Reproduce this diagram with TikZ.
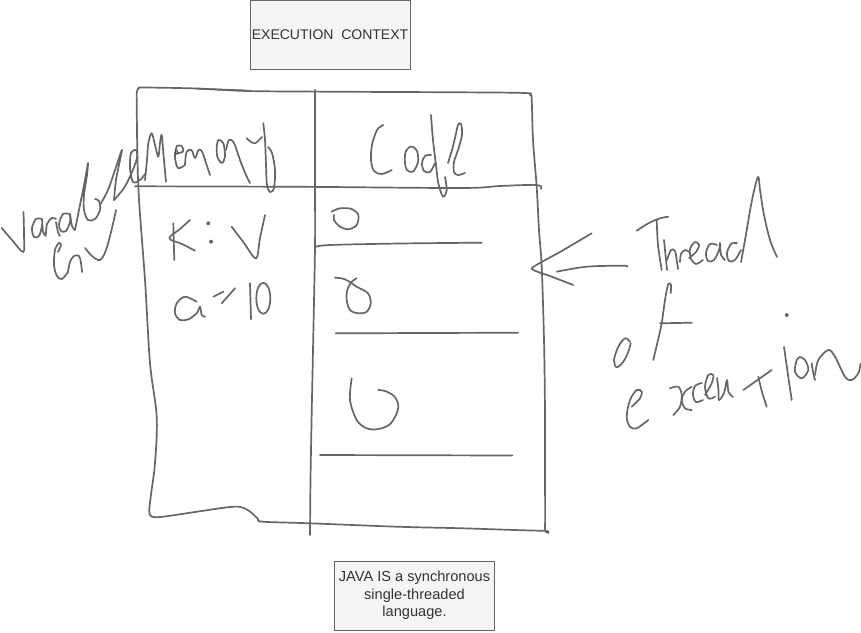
\documentclass[tikz,border=0pt]{standalone}
\usepackage{fontspec}
\setmainfont{Liberation Sans}
\definecolor{ink}{HTML}{666666}
\definecolor{boxfill}{HTML}{F5F5F5}
\definecolor{txt}{HTML}{333333}
\begin{document}
\begin{tikzpicture}[x=1pt,y=-1pt,
  ink/.style={draw=ink, line width=1.7pt, line cap=round, line join=round},
  hw/.style={ink},
  sm/.style={smooth, tension=0.55},
  labelbox/.style={draw=ink, fill=boxfill, line width=0.8pt, text=txt, inner sep=0pt, align=center}]
\useasboundingbox (0,0) rectangle (861,632);

% printed boxes
\node[labelbox, minimum width=160pt, minimum height=69pt, font=\fontsize{14}{17}\selectfont] (ec) at (330,35) {EXECUTION\ \ CONTEXT};
\node[labelbox, minimum width=160pt, minimum height=69pt, font=\fontsize{14.6}{17.5}\selectfont] (java) at (414.5,595.5) {JAVA IS a synchronous\\single-threaded\\language.};

% outer frame
\draw[hw] plot[sm] coordinates {(136.7,100) (136.8,92) (139,88) (144,87.5) (197,88.5) (247,91) (330,91.7) (460,92.3) (525,93) (530,95) (531.7,99) (533,140) (536.7,187) (539,230) (541.7,267) (544,340) (545,413) (545,470) (545,528) (543,530.7) (463,528.3) (397,526.7) (310,523.3) (263,521.7) (258,519) (253,514) (245,508.5) (233,506.7) (197,511.7) (163,516.7) (152,516.7) (149.3,511.7) (150.7,496.7) (155,463) (156.7,416.7) (150,363) (145,280) (138.3,186.7) (136.7,100)};
\draw[hw] plot[sm] coordinates {(197,88.7) (220,89.5) (247,90.5)};
% header line
\draw[hw] plot[sm] coordinates {(135,186.3) (300,186.8) (460,188) (500,186) (537,185) (541,189)};
% vertical divider
\draw[hw] plot[sm] coordinates {(315,90) (315,186) (315,246.7) (313,350) (311.7,413) (310.5,480) (310,535)};
% row lines
\draw[hw] plot[sm] coordinates {(315,247) (330,245) (400,243.5) (481.7,242.7)};
\draw[hw] (335.7,333.3) -- (518.3,332.7);
\draw[hw] (320,455) -- (512.3,455.5);

% code row marks
\draw[hw] plot[sm] coordinates {(331.7,211.7) (340,208.3) (351.7,209) (358.3,215) (356.7,225) (348.3,229.3) (340,226.7) (334,220) (334,215)};
\draw[hw] plot[sm] coordinates {(335,277.7) (345,279.3) (356.7,286.7) (368,293.3) (370.7,303.3) (366.7,311.7) (358.3,313.3) (350,310) (346.7,300) (347.3,290) (351.7,281.7) (356.7,278.3)};
\draw[hw] plot[sm] coordinates {(351.7,378.3) (350,400) (356.7,420) (366,428) (376.7,429.3) (389,425) (396,415) (398.3,405) (394,396) (385,391) (378.3,390)};

% Memory
\draw[hw] plot[sm] coordinates {(145,180) (147,160) (148.3,143.3) (151.7,133.3) (155,145) (158.3,156.7) (160,143) (161.7,135) (163.5,155) (166,181.7)};
\draw[hw] plot[sm] coordinates {(175,154) (183,151.5) (182,146.5) (177,146) (175,157) (178,168) (185,165)};
\draw[hw] plot[sm] coordinates {(185,165) (186.5,152) (191.5,150) (195,158) (198.5,150) (202,151.5) (206,163) (210,175)};
\draw[hw] plot[sm] coordinates {(216.7,147) (218.3,140) (223.3,143) (225,156.7) (221.7,163) (217.3,156.7) (216.7,147)};
\draw[hw] plot[sm] coordinates {(226,150) (229,140) (234,143) (240,160) (246,175) (250,183)};
\draw[hw] plot[sm] coordinates {(246.7,138.3) (251,142) (255,143.3) (259,140) (262,137)};
\draw[hw] plot[sm] coordinates {(263.3,123.3) (265,140) (266,165) (267,185) (270,192) (274,188) (275,170) (272,153) (268,147)};
\node[text=txt, font=\fontsize{8}{8}\selectfont, inner sep=0pt] (smalla) at (176.5,152.5) {a};

% Variable
\draw[hw] plot[sm] coordinates {(1.7,228) (12,240) (23.3,252) (24,235) (23.5,212)};
\draw[hw] plot[sm] coordinates {(42,219) (36,219) (32,228) (34,237) (39,236) (42,226) (42,219) (43,232) (46,236)};
\draw[hw] plot[sm] coordinates {(46,234) (47,224) (52,218) (56,219)};
\draw[hw] plot[sm] coordinates {(56,222) (58,232) (60,236)};
\draw[hw] plot[sm] coordinates {(69,214) (63,214) (59,224) (61,231) (66,231) (70,222) (70,214) (72,226) (75,230)};
\draw[hw] plot[sm] coordinates {(75,230) (80,205) (85,180) (88,163) (87,175) (84,195) (84,210) (88,220) (95,219) (100,210) (99,201) (95,199)};
\draw[hw] plot[sm] coordinates {(100,205) (108,190) (115,170) (120,155) (122,150) (120,160) (116,180) (114,200)};
\draw[hw] plot[sm] coordinates {(114,200) (124,188) (132,172) (137,158) (136,150) (131,153) (130,168) (133,182) (140,180) (145,174)};
% env
\draw[hw] plot[sm] coordinates {(58,252) (61,245) (59,243) (55,250) (54,265) (57,276) (62,279) (68,272)};
\draw[hw] plot[sm] coordinates {(68,272) (70,262) (74,256) (79,256) (81,263) (82,272)};
\draw[hw] plot[sm] coordinates {(85,248) (92,256) (100,260) (106,250) (112,228) (116,210)};

% Code
\draw[hw] plot[sm] coordinates {(383.3,125) (377,130) (372,145) (371,160) (374,171) (382,174) (391.7,170)};
\draw[hw] plot[sm] coordinates {(410,146.7) (405.5,152) (405,163) (407,170) (413,171.7) (418,162) (417,151) (413,147) (410,146.7)};
\draw[hw] plot[sm] coordinates {(431,155) (425,156) (422,163) (424,171) (430,172) (435,163)};
\draw[hw] plot[sm] coordinates {(431,115) (433,140) (436,165) (438.3,183) (443,196.7) (446.7,190) (445,177)};
\draw[hw] plot[sm] coordinates {(448,163) (452,150) (455,138) (458,125) (461,124) (462,135) (458,150) (454,162) (454,172) (458,175) (465,173)};

% K : V
\draw[hw] (173.3,223.3) -- (174.3,260);
\draw[hw] plot[sm] coordinates {(190,220) (180,229) (169.3,238.3) (182,244) (195,250.7)};
\fill[ink] (208.3,223.3) circle (1.3pt) (211,241.7) circle (1.3pt);
\draw[hw] plot[sm] coordinates {(231.7,226.7) (244,243) (256,258.3) (260,238) (265,215)};
% a = 10
\draw[hw] plot[sm] coordinates {(196.7,301.7) (185,296.7) (176.7,303.3) (175,313.3) (180,320) (188.3,319.3) (196.7,313.3) (200,306.7) (201.7,315) (205,316.7)};
\draw[hw] (213.3,296.7) -- (223.3,291.7);
\draw[hw] (221.7,303.3) -- (235,288.3);
\draw[hw] (250,283.3) -- (251,319.3);
\draw[hw] (263.3,298.3) ellipse (7pt and 15.5pt);

% arrow
\coordinate (tip) at (531.7,268.3);
\draw[hw] plot[sm] coordinates {(556.7,271.7) (586.7,266.7) (623.3,265.7) (626.7,266.7)};
\draw[hw] plot[tension=0.3, smooth] coordinates {(591.7,233.3) (560,252) (tip) (550,276) (573.3,285)};

% Thread
\draw[hw] plot[sm] coordinates {(636.7,230.7) (648.3,223.3) (660,218.3) (668.3,216.7)};
\draw[hw] plot[sm] coordinates {(656.7,220) (658,245) (661.7,270)};
\draw[hw] plot[sm] coordinates {(664,240) (665.5,255) (667,270)};
\draw[hw] plot[sm] coordinates {(667,260) (671,250) (675,251) (677,262) (678,269)};
\draw[hw] plot[sm] coordinates {(680,262) (681,254) (685,250) (689,252)};
\draw[hw] plot[sm] coordinates {(689,258) (696,252) (699,245) (695,242) (690,249) (691,259) (696,264) (703,260)};
\draw[hw] plot[sm] coordinates {(717,245) (710,244) (706,253) (708,261) (714,260) (719,250) (720,243) (721,255) (725,260)};
\draw[hw] plot[sm] coordinates {(737,243) (731,244) (727,253) (729,261) (735,260) (741,250)};
\draw[hw] plot[sm] coordinates {(741,262) (745,240) (752,200) (758,177) (760,190) (764,215) (770,240) (777,257)};

% of
\draw[hw] plot[sm] coordinates {(630,341.7) (625,338.3) (618.3,346.7) (614,360) (616.7,367.3) (623.3,361.7) (628.3,351.7) (630.7,343.3)};
\draw[hw] plot[sm] coordinates {(653.3,360) (658,340) (661.7,323.3) (665,300) (668.3,284) (671,285) (670.7,293)};
\draw[hw] (660,323.3) -- (691.7,322.7);

% execution
\draw[hw] plot[sm] coordinates {(631.7,406.7) (640,398.3) (641.7,391.7) (636.7,390) (630,400) (626.7,416.7) (630,426.7) (636.7,428.3) (648.3,420)};
\draw[hw] plot[sm] coordinates {(670,388.3) (678.3,386.7) (681.7,395) (680,406.7) (673.3,415)};
\draw[hw] plot[sm] coordinates {(691.7,386.7) (685,391.7) (681.7,400) (685,408.3) (691.7,410)};
\draw[hw] plot[sm] coordinates {(701.7,383) (695,386) (693,395) (696,402) (703,400)};
\draw[hw] plot[sm] coordinates {(705,395) (711.7,383.3) (713.3,375) (708.3,375) (705,386.7) (708.3,398.3) (715,396.7)};
\draw[hw] plot[sm] coordinates {(717,378) (718.5,390) (719,400) (724,393) (727,380) (728.5,392) (733,397)};
\draw[hw] (743.3,390) -- (771.7,370);
\draw[hw] plot[sm] coordinates {(758.3,376.7) (762,392) (766.7,406.7)};
\draw[hw] plot[sm] coordinates {(784,347) (788,375) (791.7,400)};
\fill[ink] (786.7,315) circle (1.2pt);
\draw[hw] plot[sm] coordinates {(800,357) (796.7,360) (795,371.7) (801.7,378.3) (808.3,370) (805,360) (800,357)};
\draw[hw] plot[sm] coordinates {(811.7,363.3) (813,372) (815,380)};
\draw[hw] plot[sm] coordinates {(815,375) (818.3,360) (828.3,350) (835,356.7) (845,376.7) (851.7,380) (858.3,373.3) (860.5,364)};
\end{tikzpicture}
\end{document}
